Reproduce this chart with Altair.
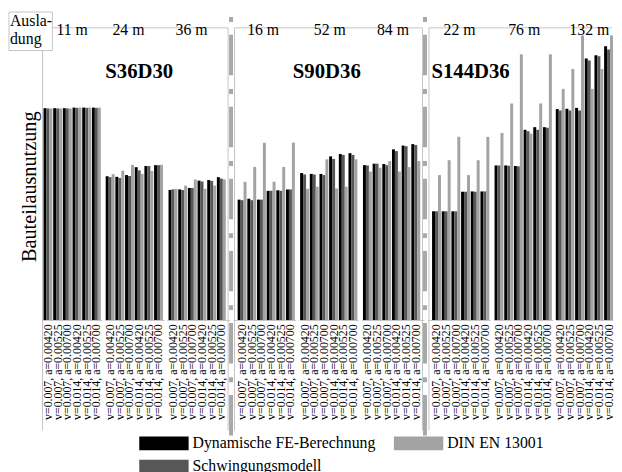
import altair as alt
import pandas as pd

# ---------------- data ----------------
panels = ["S36D30", "S90D36", "S144D36"]
spans = [["11 m", "24 m", "36 m"], ["16 m", "52 m", "84 m"], ["22 m", "76 m", "132 m"]]
combos = ["v=0.007, a=0.00420", "v=0.007, a=0.00525", "v=0.007, a=0.00700",
          "v=0.014, a=0.00420", "v=0.014, a=0.00525", "v=0.014, a=0.00700"]
series = ["Dynamische FE-Berechnung", "Schwingungsmodell", "DIN EN 13001"]
colors = ["#000000", "#575757", "#a3a3a3"]

fe = [
    [[0.725, 0.725, 0.725, 0.727, 0.727, 0.727],
     [0.492, 0.490, 0.496, 0.523, 0.527, 0.530],
     [0.445, 0.447, 0.452, 0.477, 0.479, 0.489]],
    [[0.412, 0.415, 0.412, 0.442, 0.444, 0.447],
     [0.503, 0.500, 0.500, 0.560, 0.568, 0.571],
     [0.530, 0.535, 0.534, 0.584, 0.597, 0.602]],
    [[0.372, 0.372, 0.372, 0.439, 0.440, 0.440],
     [0.529, 0.529, 0.527, 0.651, 0.660, 0.660],
     [0.722, 0.723, 0.726, 0.895, 0.906, 0.937]],
]
sm = [
    [[0.724, 0.724, 0.724, 0.726, 0.726, 0.726],
     [0.489, 0.486, 0.493, 0.512, 0.527, 0.530],
     [0.447, 0.445, 0.452, 0.474, 0.476, 0.484]],
    [[0.410, 0.410, 0.412, 0.442, 0.442, 0.447],
     [0.498, 0.498, 0.496, 0.551, 0.565, 0.565],
     [0.529, 0.535, 0.530, 0.578, 0.595, 0.599]],
    [[0.372, 0.372, 0.372, 0.439, 0.439, 0.440],
     [0.529, 0.528, 0.526, 0.646, 0.651, 0.658],
     [0.717, 0.717, 0.717, 0.888, 0.903, 0.926]],
]
din = [
    [[0.724, 0.724, 0.724, 0.727, 0.727, 0.727],
     [0.499, 0.511, 0.531, 0.500, 0.510, 0.531],
     [0.449, 0.460, 0.481, 0.449, 0.460, 0.481]],
    [[0.473, 0.524, 0.607, 0.473, 0.524, 0.607],
     [0.449, 0.456, 0.550, 0.450, 0.456, 0.550],
     [0.508, 0.521, 0.544, 0.508, 0.523, 0.544]],
    [[0.496, 0.547, 0.627, 0.496, 0.547, 0.627],
     [0.640, 0.741, 0.910, 0.638, 0.741, 0.910],
     [0.791, 0.859, 0.974, 0.791, 0.859, 0.974]],
]
y_title = "Bauteilausnutzung"
corner_label = ["Ausla-", "dung"]

# ---------------- layout ----------------
FONT = "Liberation Serif"
H = 296
W = 60
WW = 63.5
GAP = 3
FRAME = "#c4c4c4"
SEP = "#a8a8a8"
LEG_PATH = "M-1,-0.875L5.25,-0.875L5.25,0.875L-1,0.875Z"
span_label_x = [[30, 24, 25], [30.5, 31, 32], [32.5, 31, 34]]

one = pd.DataFrame({"k": [0]})


def rule(color=FRAME, width=1, dash=None, **enc):
    kw = dict(color=color, strokeWidth=width)
    if dash:
        kw["strokeDash"] = dash
        kw["strokeCap"] = "butt"
    return alt.Chart(one).mark_rule(**kw).encode(**{k: alt.value(v) for k, v in enc.items()})


def text(t, x, y, size=16, bold=False, align="center", angle=0, baseline="alphabetic"):
    kw = dict(font=FONT, fontSize=size, align=align, baseline=baseline, color="black")
    if bold:
        kw["fontWeight"] = "bold"
    if angle:
        kw["angle"] = angle
    return alt.Chart(one).mark_text(**kw).encode(x=alt.value(x), y=alt.value(y), text=alt.value(t))


xaxis = alt.Axis(title=None, labelAngle=270, ticks=False, domainColor=FRAME, labelPadding=4,
                 labelFont=FONT, labelFontSize=12, labelColor="black", labelLimit=300)

blocks = []
for p in range(3):
    for b in range(3):
        rows = []
        for g, c in enumerate(combos):
            for k, (s, vals) in enumerate(zip(series, (fe, sm, din))):
                rows.append({"combo": c, "series": s, "pos": k, "value": vals[p][b][g]})
        df = pd.DataFrame(rows)
        wide = (p < 2 and b == 2) or (p > 0 and b == 0)
        last = (p == 2 and b == 2)
        if last:
            width = 58
            sc = alt.Scale(paddingInner=0.08, paddingOuter=0)
        elif wide:
            width = WW
            sc = alt.Scale(paddingInner=0.08, paddingOuter=0.28, align=0.3 if b == 2 else 0.85)
        else:
            width = W
            sc = alt.Scale(paddingInner=0.08, paddingOuter=0.1)
        bars = alt.Chart(df).mark_bar().encode(
            x=alt.X("combo:N", sort=combos, scale=sc, axis=xaxis),
            xOffset=alt.XOffset("pos:O"),
            y=alt.Y("value:Q", scale=alt.Scale(domain=[0, 1]), axis=None),
            color=alt.Color("series:N", scale=alt.Scale(domain=series, range=colors),
                            legend=alt.Legend(title=None, values=series)),
        )
        layers = []
        if b == 0:
            x0 = 0 if p == 0 else 1.5
            length = [188, 190, 185.5][p]
            layers.append(rule(x=x0, x2=x0 + length, y=0))
            layers.append(rule(x=x0, y=23 if p == 0 else 0, y2=408))
        if b == 2 and p < 2:
            layers.append(rule(x=62, y=0, y2=408))
        layers.append(bars)
        layers.append(text(spans[p][b], span_label_x[p][b], 7))
        if p < 2 and b == 1:
            layers.append(text(panels[p], [35, 28][p], 51, size=21, bold=True))
        if p == 2 and b == 0:
            layers.append(text(panels[p], 4, 51, size=21, bold=True, align="left"))
        if p == 0 and b == 0:
            layers.append(alt.Chart(one).mark_rect(fill="white", stroke=FRAME, strokeWidth=1).encode(
                x=alt.value(-34), x2=alt.value(10), y=alt.value(-16), y2=alt.value(23)))
            layers.append(text(corner_label[0], -33, -2, align="left"))
            layers.append(text(corner_label[1], -33, 16, align="left"))
            layers.append(text(y_title, -13, 161, size=20.5, angle=270, baseline="middle"))
        if b == 2 and p < 2:
            layers.append(rule(color=SEP, width=4, dash=[5, 13, 41, 14],
                               x=[65, 64.5][p], y=-11, y2=414))
        blocks.append(alt.layer(*layers).properties(width=width, height=H))

chart = alt.hconcat(*blocks, spacing=GAP, bounds="flush").resolve_scale(
    x="independent", y="independent", xOffset="independent", color="shared"
).properties(padding=0).configure_view(stroke=None).configure_legend(
    orient="none", legendX=98, legendY=413, columns=2, symbolType=LEG_PATH, symbolSize=256,
    symbolStrokeWidth=0, labelFont=FONT, labelFontSize=16, labelColor="black", labelOffset=38,
    labelLimit=400, columnPadding=18, rowPadding=7.5, padding=0
)

chart.save("out.html", embed_options={"renderer": "svg", "actions": False})
